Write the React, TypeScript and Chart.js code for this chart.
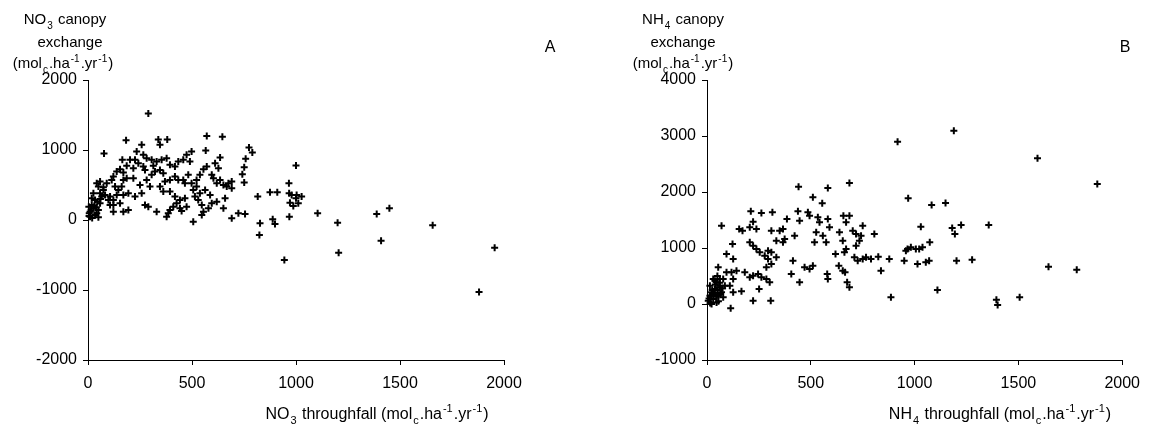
import React, { useEffect, useRef } from 'react';
import { Chart, registerables } from 'chart.js';

Chart.register(...registerables);

const FONT = '"Liberation Sans", Arial, Helvetica, sans-serif';

// ---------- Panel A: NO3 ----------
const no3Throughfall = [
  5, 10, 26, 42, 50, 18, 34, 58, 4, 66, 74, 58, 50, 82, 98, 106, 122, 138, 122, 154,
  170, 194, 146, 130, 162, 170, 122, 138, 154, 170, 186, 114, 90, 74, 218, 226, 258, 250, 274, 290,
  330, 378, 386, 394, 410, 426, 442, 450, 474, 466, 442, 418, 394, 362, 346, 298, 282, 306, 322, 314,
  274, 242, 226, 234, 266, 282, 306, 330, 354, 378, 394, 418, 434, 458, 474, 498, 490, 482, 458, 434,
  418, 394, 370, 362, 346, 506, 522, 514, 530, 547, 555, 547, 506, 522, 538, 555, 571, 595, 603, 619,
  611, 627, 635, 651, 667, 691, 675, 691, 659, 651, 691, 723, 755, 619, 595, 579, 563, 587, 538, 498,
  466, 266, 202, 186, 218, 170, 194, 122, 106, 58, 42, 26, 18, 50, 34, 10, 6, 290, 571, 646,
  183, 77, 338, 381, 346, 258, 566, 774, 790, 1000, 635, 758, 751, 742, 751, 165, 816, 875, 910, 966,
  1027, 968, 827, 824, 888, 899, 944, 1104, 1200, 1205, 1388, 1449, 1409, 1657, 1955, 1880, 967, 979, 1000, 971,
  987, 1011, 1003, 15, 30, 45, 20, 40, 60,
];
const no3Exchange = [
  57, 119, 167, 95, 38, 215, 286, 239, 191, 334, 430, 549, 477, 358, 286, 215, 286, 358, 215, 239,
  119, 143, 430, 477, 477, 573, 621, 692, 726, 678, 597, 573, 525, 468, 597, 334, 382, 501, 215, 191,
  119, 48, 95, 143, 191, 239, 167, 129, 191, 310, 286, 334, 406, 406, 477, 477, 573, 645, 692, 774,
  716, 812, 860, 979, 931, 883, 860, 836, 860, 883, 788, 764, 836, 860, 931, 979, 836, 645, 573, 573,
  621, 573, 549, 668, 716, 430, 477, 334, 286, 215, 119, 71, -24, 573, 645, 726, 764, 645, 597, 525,
  812, 740, 573, 501, 477, 549, 525, 453, 310, 167, 24, 95, 86, 262, 239, 167, 430, 358, 382, 525,
  525, 764, 860, 774, 740, 358, 382, 119, 334, 382, 525, 382, 310, 143, 71, 48, 95, 1520, 1200, 1190,
  1140, 950, 1150, 1150, 1075, 1075, 993, 1036, 964, 778, 893, 874, 755, 655, 535, 860, 334, 397, 397, 526,
  334, 47, -47, -215, 10, -57, -573, 96, -38, -468, 86, 168, -296, -76, -397, -1027, 382, 358, 310, 248,
  200, 239, 358, 140, 200, 260, 30, 180, 300,
];

// ---------- Panel B: NH4 ----------
const nh4Throughfall = [
  918, 441, 582, 686, 510, 555, 969, 1082, 1030, 211, 262, 315, 70, 155, 171, 222, 206, 238, 310, 350,
  366, 385, 438, 446, 422, 374, 366, 334, 486, 494, 534, 542, 582, 590, 526, 518, 558, 574, 638, 654,
  657, 686, 670, 702, 718, 750, 742, 734, 718, 670, 662, 710, 726, 750, 766, 790, 825, 806, 878, 838,
  619, 635, 654, 665, 675, 686, 579, 582, 510, 494, 470, 414, 406, 446, 294, 310, 334, 222, 238, 254,
  278, 294, 310, 286, 206, 94, 126, 123, 182, 206, 222, 246, 262, 286, 302, 251, 166, 222, 307, 114,
  126, 118, 142, 110, 126, 54, 30, 46, 62, 38, 22, 70, 14, 54, 30, 6, 46, 78, 62, 86,
  22, 38, 14, 78, 94, 886, 950, 966, 982, 1006, 1022, 1038, 1073, 1014, 1054, 1070, 958, 1110, 1189, 1592,
  1880, 1149, 1181, 1194, 1224, 1357, 1202, 1277, 1645, 1781, 1394, 1400, 1506, 10, 20, 35, 50, 60, 40, 25,
  55, 65, 75, 45, 15, 30, 60, 50,
];
const nh4Exchange = [
  2899, 2095, 2071, 2161, 1905, 1798, 1887, 1768, 1381, 1655, 1625, 1637, 1399, 1339, 1309, 1470, 1369, 1339, 1309, 1309,
  1339, 1518, 1655, 1488, 1220, 1161, 1101, 1131, 1637, 1577, 1548, 1459, 1518, 1369, 1280, 1101, 1220, 1101, 1280, 1131,
  1577, 1577, 1458, 1309, 1250, 1399, 1220, 1131, 1042, 982, 922, 833, 774, 803, 833, 803, 845, 1250, 803, 595,
  893, 684, 595, 565, 387, 297, 536, 446, 684, 625, 655, 774, 536, 387, 952, 922, 833, 1042, 982, 922,
  863, 803, 714, 655, 1101, 893, 803, 1071, 565, 476, 506, 536, 476, 446, 387, 268, 226, 59, 59, -78,
  446, 565, 595, 327, 208, 655, 446, 387, 327, 268, 208, 208, 149, 149, 89, 59, 29, 119, 446, 327,
  0, 417, 327, 446, 565, 119, 774, 982, 1012, 982, 982, 1012, 1101, 714, 744, 774, 952, 250, 3095, 2601,
  2143, 1804, 1357, 1250, 1411, 1411, 774, 791, 666, 613, 77, -18, 119, 100, 150, 200, 250, 300, 350, 250,
  50, 180, 280, 130, 20, 180, 380, 500,
];

const xTickValues = [0, 500, 1000, 1500, 2000];
const yTicksA = [-2000, -1000, 0, 1000, 2000];
const yTicksB = [-1000, 0, 1000, 2000, 3000, 4000];

type Seg = [string, '' | 'sub' | 'sup'];
const unitSegs: Seg[] = [['(mol', ''], ['c', 'sub'], ['.ha', ''], ['-1', 'sup'], ['.yr', ''], ['-1', 'sup'], [')', '']];

interface TextItem { segs: Seg[]; x: number; y: number; size?: number; }

function drawRich(ctx: CanvasRenderingContext2D, item: TextItem) {
  const size = item.size || 15;
  const main = `${size}px ${FONT}`;
  const small = `${Math.round(size * 0.68)}px ${FONT}`;
  const gap = 1;
  const widthOf = (t: string, m: string) => {
    ctx.font = m ? small : main;
    return ctx.measureText(t).width + (m ? gap * 2 : 0);
  };
  let w = 0;
  for (const [t, m] of item.segs) w += widthOf(t, m);
  let x = item.x - w / 2;
  const base = item.y + size * 0.36;
  ctx.save();
  ctx.fillStyle = '#000';
  ctx.textBaseline = 'alphabetic';
  ctx.textAlign = 'left';
  for (const [t, m] of item.segs) {
    ctx.font = m ? small : main;
    const dy = m === 'sub' ? size * 0.3 : m === 'sup' ? -size * 0.4 : 0;
    ctx.fillText(t, x + (m ? gap : 0), base + dy);
    x += widthOf(t, m);
  }
  ctx.restore();
}

interface PanelCfg {
  xs: number[];
  ys: number[];
  yTicks: number[];
  width: number;
  left: number;   // chart area left (canvas coords)
  right: number;  // chart area right
  texts: TextItem[];
}

function makeChart(canvas: HTMLCanvasElement, cfg: PanelCfg) {
  const pts = cfg.xs.map((x, i) => ({ x, y: cfg.ys[i] }));
  const top = 80;
  const bottom = 360;
  const textPlugin = {
    id: 'richText',
    afterDraw(chart: any) {
      const ctx = chart.ctx as CanvasRenderingContext2D;
      cfg.texts.forEach((t) => drawRich(ctx, t));
    },
  };
  const tickFont = { family: FONT, size: 16 };
  const plain = (v: any) => String(v);
  return new Chart(canvas, {
    type: 'scatter',
    data: {
      datasets: [
        {
          data: pts,
          pointStyle: 'cross',
          pointRadius: 3.5,
          pointBorderWidth: 2,
          borderColor: '#000',
          backgroundColor: '#000',
          clip: false,
        } as any,
      ],
    },
    options: {
      animation: false,
      responsive: false,
      maintainAspectRatio: false,
      layout: { padding: { left: 0, right: cfg.width - cfg.right, top, bottom: 0 } },
      plugins: { legend: { display: false }, tooltip: { enabled: false } },
      scales: {
        x: {
          type: 'linear',
          min: 0,
          max: 2000,
          afterBuildTicks: (s: any) => { s.ticks = xTickValues.map((v) => ({ value: v })); },
          afterFit: (s: any) => { s.height = 438 - bottom; },
          grid: { drawOnChartArea: false, drawTicks: true, tickLength: 5, color: '#000', lineWidth: 1 },
          border: { display: true, color: '#000', width: 1 },
          ticks: { color: '#000', font: tickFont, padding: 9, maxRotation: 0, callback: plain },
        },
        y: {
          type: 'linear',
          min: cfg.yTicks[0],
          max: cfg.yTicks[cfg.yTicks.length - 1],
          afterBuildTicks: (s: any) => { s.ticks = cfg.yTicks.map((v) => ({ value: v })); },
          afterFit: (s: any) => { s.width = cfg.left; },
          grid: { drawOnChartArea: false, drawTicks: true, tickLength: 5, color: '#000', lineWidth: 1 },
          border: { display: true, color: '#000', width: 1 },
          ticks: { color: '#000', font: tickFont, padding: 6, callback: plain },
        },
      },
    } as any,
    plugins: [textPlugin],
  });
}

export default function App() {
  const refA = useRef<HTMLCanvasElement>(null);
  const refB = useRef<HTMLCanvasElement>(null);

  useEffect(() => {
    const a = makeChart(refA.current!, {
      xs: no3Throughfall,
      ys: no3Exchange,
      yTicks: yTicksA,
      width: 574,
      left: 88,
      right: 504,
      texts: [
        { segs: [['NO', ''], ['3', 'sub'], [' canopy', '']], x: 65, y: 19 },
        { segs: [['exchange', '']], x: 70, y: 42 },
        { segs: unitSegs, x: 63, y: 63 },
        { segs: [['A', '']], x: 550, y: 46, size: 16 },
        { segs: [['NO', ''], ['3', 'sub'], [' throughfall ', ''], ...unitSegs], x: 377, y: 413, size: 16 },
      ],
    });
    const b = makeChart(refB.current!, {
      xs: nh4Throughfall,
      ys: nh4Exchange,
      yTicks: yTicksB,
      width: 575,
      left: 133,
      right: 550,
      texts: [
        { segs: [['NH', ''], ['4', 'sub'], [' canopy', '']], x: 109, y: 19 },
        { segs: [['exchange', '']], x: 109, y: 42 },
        { segs: unitSegs, x: 109, y: 63 },
        { segs: [['B', '']], x: 551, y: 46, size: 16 },
        { segs: [['NH', ''], ['4', 'sub'], [' throughfall ', ''], ...unitSegs], x: 426, y: 413, size: 16 },
      ],
    });
    return () => {
      a.destroy();
      b.destroy();
    };
  }, []);

  return (
    <div style={{ position: 'absolute', left: 0, top: 0, width: 1149, height: 438, background: '#fff' }}>
      <canvas ref={refA} width={574} height={438} style={{ position: 'absolute', left: 0, top: 0 }} />
      <canvas ref={refB} width={575} height={438} style={{ position: 'absolute', left: 574, top: 0 }} />
    </div>
  );
}
